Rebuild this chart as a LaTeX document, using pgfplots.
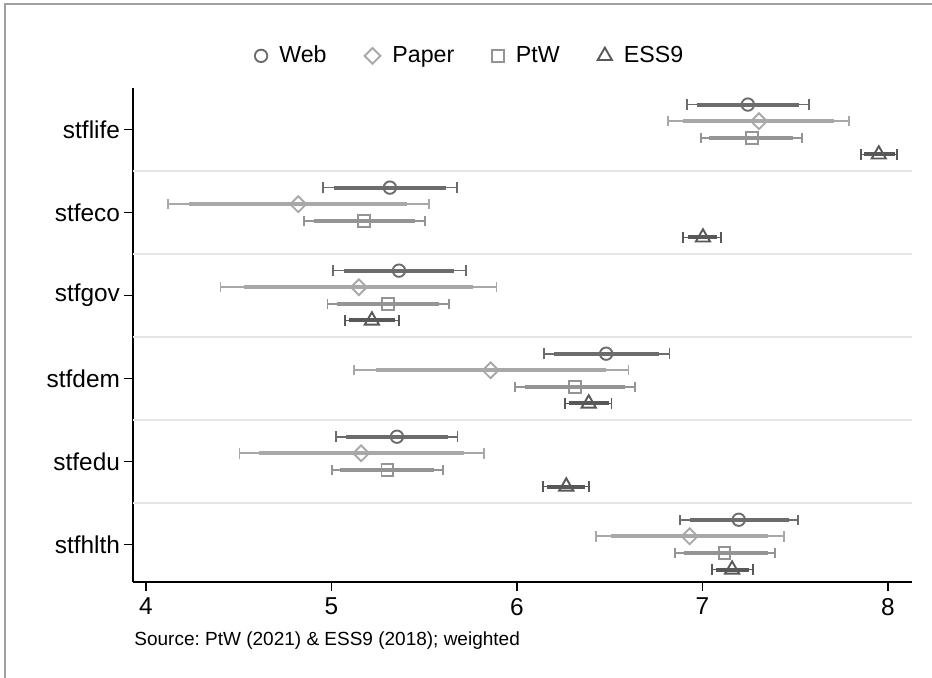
\documentclass[border=0pt]{standalone}
\usepackage{pgfplots}
\pgfplotsset{compat=1.18}
\usepackage{pgfplotstable}
\usepackage{fontspec}
\setmainfont{Liberation Sans}
\frenchspacing
\definecolor{webc}{RGB}{108,108,108}
\definecolor{paperc}{RGB}{168,168,168}
\definecolor{ptwc}{RGB}{148,148,148}
\definecolor{essc}{RGB}{88,88,88}
\definecolor{gridc}{RGB}{230,230,230}
\definecolor{framec}{RGB}{160,160,160}

% y  m  l95 h95 l90 h90
\pgfplotstableread{
y m l95 h95 l90 h90
6.3 7.245 6.916 7.574 6.970 7.520
5.3 5.315 4.954 5.677 5.013 5.617
4.3 5.364 5.008 5.725 5.067 5.660
3.3 6.481 6.146 6.822 6.200 6.764
2.3 5.353 5.026 5.679 5.078 5.630
1.3 7.196 6.879 7.516 6.931 7.465
}\web
\pgfplotstableread{
y m l95 h95 l90 h90
6.1 7.305 6.814 7.790 6.895 7.709
5.1 4.821 4.119 5.525 4.233 5.405
4.1 5.148 4.402 5.890 4.528 5.763
3.1 5.858 5.120 6.601 5.242 6.481
2.1 5.160 4.505 5.822 4.612 5.714
1.1 6.931 6.425 7.439 6.506 7.356
}\paper
\pgfplotstableread{
y m l95 h95 l90 h90
5.9 7.267 6.992 7.536 7.035 7.488
4.9 5.175 4.852 5.504 4.906 5.450
3.9 5.305 4.978 5.635 5.032 5.579
2.9 6.314 5.990 6.636 6.042 6.582
1.9 5.301 5.004 5.600 5.048 5.551
0.9 7.119 6.853 7.392 6.902 7.351
}\ptw
\pgfplotstableread{
y m l95 h95 l90 h90
5.7 7.951 7.854 8.049 7.871 8.038
4.7 7.003 6.895 7.100 6.920 7.080
3.7 5.218 5.073 5.364 5.097 5.340
2.7 6.387 6.259 6.510 6.279 6.496
1.7 6.266 6.139 6.389 6.162 6.367
0.7 7.160 7.052 7.271 7.073 7.253
}\ess

\pgfplotsset{
  ci95/.style={draw=none, mark=none, forget plot,
    error bars/.cd, x dir=both, x explicit,
    error bar style={line width=0.85pt, draw=#1, solid},
    error mark=|,
    error mark options={draw=#1, line width=0.85pt, mark size=2.6pt}},
  ci90/.style={draw=none, mark=none, forget plot,
    error bars/.cd, x dir=both, x explicit,
    error bar style={line width=2pt, draw=#1, solid},
    error mark=none},
}
\newcommand{\ciplots}[2]{%
  \addplot[ci95=#2] table[x=m, y=y, x error plus expr=\thisrow{h95}-\thisrow{m}, x error minus expr=\thisrow{m}-\thisrow{l95}] {#1};
  \addplot[ci90=#2] table[x=m, y=y, x error plus expr=\thisrow{h90}-\thisrow{m}, x error minus expr=\thisrow{m}-\thisrow{l90}] {#1};
}

\begin{document}
\begin{tikzpicture}
\useasboundingbox (0,0) rectangle (466pt,339pt);
\draw[framec, line width=1pt] (2.5pt,0) -- (2.5pt,337pt) -- (466pt,337pt);
\begin{axis}[
  at={(66.5pt,48pt)}, anchor=south west,
  scale only axis, width=389.5pt, height=247pt,
  xmin=3.93, xmax=8.13, ymin=0.55, ymax=6.5,
  axis x line*=bottom, axis y line*=left,
  axis line style={line width=0.7pt, black},
  xtick={4,5,6,7,8},
  ytick={1,2,3,4,5,6},
  yticklabels={stfhlth,stfedu,stfdem,stfgov,stfeco,stflife},
  tick align=outside, major tick length=4.5pt,
  tick style={line width=0.7pt, black},
  /pgf/number format/assume math mode=true,
  tick label style={font=\fontsize{12.2pt}{14pt}\selectfont},
  yticklabel style={xshift=1.5pt},
  extra y ticks={1.5,2.5,3.5,4.5,5.5},
  extra y tick labels={},
  extra y tick style={grid=major, major tick length=0pt, grid style={draw=gridc, line width=1pt}},
  legend columns=4,
  legend style={at={(0.434,1.065)}, anchor=center, draw=none, fill=none,
    font=\fontsize{11.6pt}{13pt}\selectfont,
    /tikz/every odd column/.append style={column sep=4pt},
    /tikz/every even column/.append style={column sep=17pt}},
  clip=false,
]
\ciplots{\web}{webc}
\ciplots{\paper}{paperc}
\ciplots{\ptw}{ptwc}
\ciplots{\ess}{essc}
\addplot[only marks, mark=o, mark size=3.1pt, mark options={draw=webc, fill=white, line width=0.95pt}] table[x=m,y=y] {\web};
\addplot[only marks, mark=square, mark size=2.8pt, mark options={rotate=45, draw=paperc, fill=white, line width=0.95pt}] table[x=m,y=y] {\paper};
\addplot[only marks, mark=square, mark size=2.9pt, mark options={draw=ptwc, fill=white, line width=0.95pt}] table[x=m,y=y] {\ptw};
\addplot[only marks, mark=triangle, mark size=4.1pt, mark options={draw=essc, fill=white, line width=0.95pt}] table[x=m,y=y] {\ess};
\legend{Web,Paper,PtW,ESS9}
\end{axis}
\node[anchor=west, font=\fontsize{9.5pt}{11pt}\selectfont, inner sep=0pt] at (67pt,18.5pt) {Source: PtW (2021) \& ESS9 (2018); weighted};
\end{tikzpicture}
\end{document}
